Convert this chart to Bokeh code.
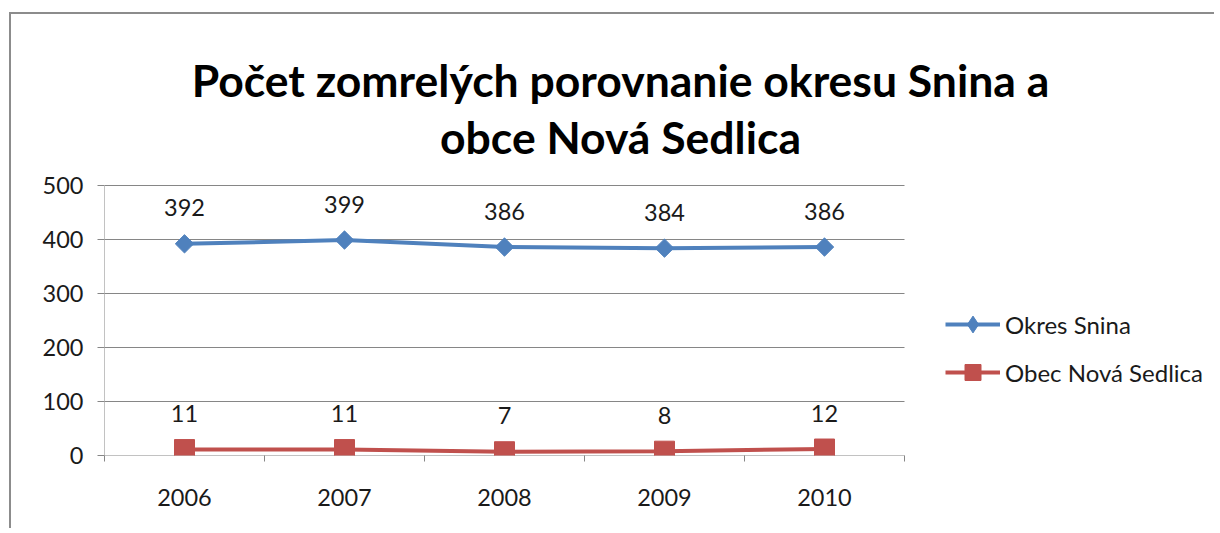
from math import pi
from bokeh.plotting import figure
from bokeh.models import FixedTicker, Label, Legend, LegendItem, Range1d
from bokeh.core.properties import value
from bokeh.embed import file_html
from bokeh.resources import INLINE

years = ["2006", "2007", "2008", "2009", "2010"]
okres_snina = [392, 399, 386, 384, 386]
obec_nova_sedlica = [11, 11, 7, 8, 12]
y_ticks = [0, 100, 200, 300, 400, 500]
series_names = ["Okres Snina", "Obec Nová Sedlica"]
title_lines = ["Počet zomrelých porovnanie okresu Snina a", "obce Nová Sedlica"]

FONT = "Lato"
BLUE = "#4F81BD"
RED = "#C0504D"
GRID = "#868686"
TXT = "#1a1a1a"
LBL_SIZE = "23.5px"

n = len(years)
xs = [i + 0.5 for i in range(n)]

# layout: frame covers the whole canvas except the axis-label strips
W, H = 1205, 516
BL, BR, BB = 93, 5, 75
CAT_PX = 160            # pixels per category
VAL_PX = 270 / 500      # pixels per unit value
frame_w = W - BL - BR
frame_h = H - BB
FRAME_LEFT_PAGE = 11 + BL        # page x of frame left
FRAME_BOTTOM_PAGE = 14 + frame_h  # page y of frame bottom


def page_x(px):
    return (px - FRAME_LEFT_PAGE) / CAT_PX


def page_y(py):
    return (FRAME_BOTTOM_PAGE - py) / VAL_PX


p = figure(width=W, height=H, x_range=Range1d(0, frame_w / CAT_PX),
           y_range=Range1d(0, frame_h / VAL_PX),
           output_backend="svg", toolbar_location=None,
           min_border_left=BL, min_border_right=BR, min_border_top=0, min_border_bottom=BB)
p.margin = (12, 0, 0, 9)
p.styles = {"border-left": "2px solid #8c8c8c", "border-top": "2px solid #8c8c8c"}
p.outline_line_color = None
p.background_fill_color = "white"
p.title.visible = False

for txt, py in zip(title_lines, (79, 136)):
    p.add_layout(Label(x=page_x(620), y=page_y(py), text=txt, text_align="center",
                       text_baseline="alphabetic", text_font=FONT, text_font_size="44.5px",
                       text_font_style="bold", text_color="black"))

# gridlines and axis lines limited to the plot area
p.xgrid.visible = False
p.ygrid.visible = False
p.segment(x0=[0] * len(y_ticks), x1=[n] * len(y_ticks), y0=y_ticks, y1=y_ticks,
          line_color=GRID, line_width=1)
p.segment(x0=[0], x1=[0], y0=[min(y_ticks)], y1=[max(y_ticks)], line_color=GRID, line_width=1)

yax = p.yaxis[0]
yax.ticker = FixedTicker(ticks=y_ticks, minor_ticks=[])
yax.axis_line_color = None
yax.major_tick_line_color = GRID
yax.major_tick_out = 7
yax.major_tick_in = 0
yax.major_label_standoff = 14
yax.major_label_text_font = FONT
yax.major_label_text_font_size = LBL_SIZE
yax.major_label_text_color = TXT

xax = p.xaxis[0]
xax.ticker = FixedTicker(ticks=xs, minor_ticks=list(range(n + 1)))
xax.axis_line_color = None
xax.major_tick_out = 0
xax.major_tick_in = 0
xax.minor_tick_line_color = GRID
xax.minor_tick_out = 6
xax.minor_tick_in = 0
xax.major_label_overrides = {x: y for x, y in zip(xs, years)}
xax.major_label_standoff = 27
xax.major_label_text_font = FONT
xax.major_label_text_font_size = LBL_SIZE
xax.major_label_text_color = TXT

l1 = p.line(xs, okres_snina, line_color=BLUE, line_width=4)
# diamond marker used for the legend symbol (hidden beneath the rotated squares)
m1_leg = p.scatter(xs, okres_snina, marker="diamond", size=13, color=BLUE)
m1 = p.scatter(xs, okres_snina, marker="square", angle=pi / 4, size=13, color=BLUE)
l2 = p.line(xs, obec_nova_sedlica, line_color=RED, line_width=4)
m2 = p.scatter(xs, obec_nova_sedlica, marker="square", size=20, color=RED)

for vals in (okres_snina, obec_nova_sedlica):
    p.text(xs, vals, text=[str(v) for v in vals], y_offset=-36,
           text_align="center", text_baseline="middle",
           text_font=value(FONT), text_font_size=LBL_SIZE, text_color=TXT)

common = dict(orientation="vertical", glyph_width=55, label_standoff=5, padding=0, margin=0,
              border_line_color=None, background_fill_alpha=0,
              label_text_font=FONT, label_text_font_size="24px", label_text_color=TXT)
leg1 = Legend(items=[LegendItem(label=series_names[0], renderers=[l1, m1_leg])],
              location=(841, 110), glyph_height=42, label_height=20, **common)
leg2 = Legend(items=[LegendItem(label=series_names[1], renderers=[l2, m2])],
              location=(841, 63), glyph_height=40, label_height=20, **common)
p.add_layout(leg1, "center")
p.add_layout(leg2, "center")

open("out.html", "w").write(file_html(p, INLINE))
